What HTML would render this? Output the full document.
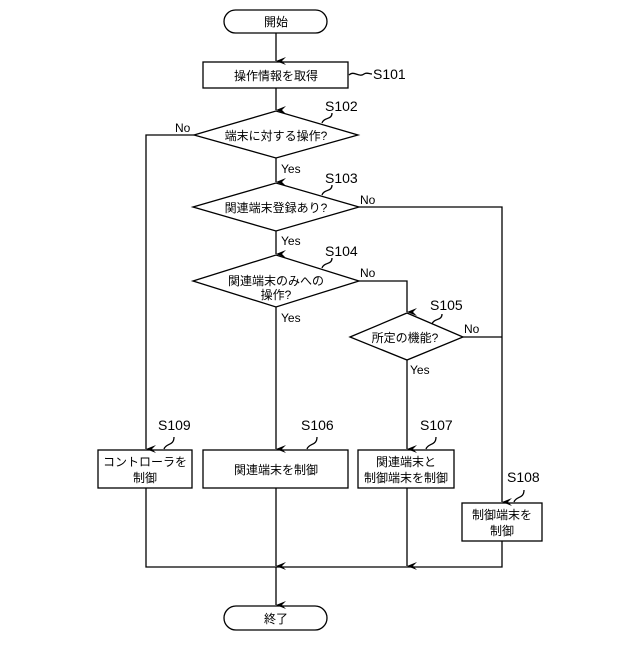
<!DOCTYPE html>
<html><head><meta charset="utf-8"><style>body{margin:0;background:#fff}</style></head><body>
<svg width="640" height="640" viewBox="0 0 640 640" xmlns="http://www.w3.org/2000/svg" font-family="Liberation Sans, Noto Sans CJK JP, sans-serif" font-size="12" fill="#000">
<defs><marker id="a" markerWidth="8" markerHeight="10" refX="4" refY="10" orient="auto-start-reverse" markerUnits="userSpaceOnUse"><path d="M0,0 L4,10 L8,0 L4,4 Z" fill="#000"/></marker></defs>
<g stroke="#000" stroke-width="1.3" fill="none">
<rect x="224" y="10" width="103" height="23" rx="11.5" fill="#fff"/>
<rect x="224" y="606" width="103" height="24" rx="12" fill="#fff"/>
<rect x="203" y="62" width="145" height="26"/>
<polygon points="194,135 276,111 358,135 276,158"/>
<polygon points="193,207 276,183 359,207 276,231"/>
<polygon points="193,281 276,255 359,281 276,307"/>
<polygon points="350,337 407,313 463,337 407,360"/>
<rect x="98" y="450" width="94" height="38"/>
<rect x="203" y="450" width="145" height="38"/>
<rect x="358" y="450" width="96" height="38"/>
<rect x="462" y="503" width="80" height="38"/>
<line x1="276" y1="33" x2="276" y2="61" marker-end="url(#a)"/>
<line x1="276" y1="88" x2="276" y2="110" marker-end="url(#a)"/>
<line x1="276" y1="158" x2="276" y2="182" marker-end="url(#a)"/>
<line x1="276" y1="231" x2="276" y2="254" marker-end="url(#a)"/>
<line x1="276" y1="307" x2="276" y2="449" marker-end="url(#a)"/>
<polyline points="194,135 146,135 146,449" marker-end="url(#a)"/>
<polyline points="359,207 502,207 502,502" marker-end="url(#a)"/>
<polyline points="463,337 502,337"/>
<polyline points="359,281 407,281 407,312" marker-end="url(#a)"/>
<line x1="407" y1="360" x2="407" y2="449" marker-end="url(#a)"/>
<polyline points="146,488 146,567 502,567 502,541"/>
<line x1="276" y1="488" x2="276" y2="566" marker-end="url(#a)"/>
<line x1="407" y1="488" x2="407" y2="566" marker-end="url(#a)"/>
<line x1="276" y1="567" x2="276" y2="605" marker-end="url(#a)"/>
<path d="M349,75 c5,-5 10,3 15,-1 c3,-2 5,0 8,0"/>
<path d="M322,123 c2,-6 10,-3 10,-10"/>
<path d="M322,195 c2,-6 10,-3 10,-10"/>
<path d="M322,268 c2,-6 10,-3 10,-10"/>
<path d="M432,324 c2,-6 10,-3 10,-10"/>
<path d="M164,449 c2,-6 10,-3 10,-12"/>
<path d="M307,449 c2,-6 10,-3 10,-12"/>
<path d="M426,449 c2,-6 10,-3 10,-12"/>
<path d="M514,502 c2,-6 10,-3 10,-12"/>
</g>
<g text-anchor="middle">
<text x="276" y="26">開始</text>
<text x="276" y="623">終了</text>
<text x="276" y="80">操作情報を取得</text>
<text x="276" y="140">端末に対する操作?</text>
<text x="276" y="212">関連端末登録あり?</text>
<text x="276" y="285">関連端末のみへの</text>
<text x="276" y="299">操作?</text>
<text x="405" y="342">所定の機能?</text>
<text x="145" y="466">コントローラを</text>
<text x="145" y="482">制御</text>
<text x="276" y="474">関連端末を制御</text>
<text x="406" y="466">関連端末と</text>
<text x="406" y="482">制御端末を制御</text>
<text x="502" y="519">制御端末を</text>
<text x="502" y="535">制御</text>
</g>
<g font-size="14">
<text x="373" y="79">S101</text>
<text x="325" y="111">S102</text>
<text x="325" y="183">S103</text>
<text x="325" y="256">S104</text>
<text x="430" y="310">S105</text>
<text x="158" y="430">S109</text>
<text x="301" y="430">S106</text>
<text x="420" y="430">S107</text>
<text x="507" y="482">S108</text>
</g>
<g font-size="12">
<text x="175" y="132">No</text>
<text x="281" y="173">Yes</text>
<text x="360" y="204">No</text>
<text x="281" y="245">Yes</text>
<text x="360" y="277">No</text>
<text x="281" y="322">Yes</text>
<text x="464" y="333">No</text>
<text x="410" y="374">Yes</text>
</g>
</svg>
</body></html>
